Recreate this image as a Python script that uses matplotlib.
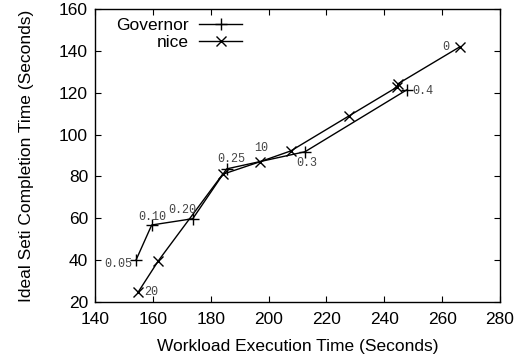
import matplotlib
matplotlib.use("Agg")
import matplotlib.pyplot as plt

plt.rcParams['font.family'] = ['Liberation Sans', 'DejaVu Sans']

gov_x = [154.2, 159.6, 173.8, 185.5, 212.6, 247.7]
gov_y = [40.1, 56.8, 59.8, 83.6, 91.8, 121.3]
gov_labels = ["0.05", "0.10", "0.20", "0.25", "0.3", "0.4"]

nice_x = [155.0, 161.9, 184.1, 197.0, 207.7, 227.9, 244.3, 244.9, 266.2]
nice_y = [24.9, 39.7, 81.0, 87.0, 92.2, 109.0, 122.6, 124.4, 142.0]
nice_labels = {0: "20", 3: "10", 8: "0"}

xticks = [140, 160, 180, 200, 220, 240, 260, 280]
yticks = [20, 40, 60, 80, 100, 120, 140, 160]

fig = plt.figure(figsize=(5.2, 3.6), dpi=100)
ax = fig.add_axes([0.1827, 0.1611, 0.9615 - 0.1827, 0.975 - 0.1611])

ax.plot(gov_x, gov_y, color='black', lw=1.0, marker='+', markersize=8,
        markeredgewidth=1.0, label='Governor')
ax.plot(nice_x, nice_y, color='black', lw=1.0, marker='x', markersize=7,
        markeredgewidth=1.0, label='nice')

lab_kw = dict(family=['Liberation Mono', 'DejaVu Sans Mono'], fontsize=8.5,
              color='#444444')
gov_off = [(-3, -3, 'right', 'center'), (-10, 6, 'left', 'center'),
           (-18, 6, 'left', 'center'), (-7, 7, 'left', 'center'),
           (-6, -8, 'left', 'center'), (4, -1, 'left', 'center')]
for (x, y, t, (dx, dy, ha, va)) in zip(gov_x, gov_y, gov_labels, gov_off):
    ax.annotate(t, (x, y), xytext=(dx, dy), textcoords='offset points',
                ha=ha, va=va, **lab_kw)
nice_off = {0: (4, 0, 'left', 'center'), 3: (-4, 10, 'left', 'center'),
            8: (-8, 0, 'right', 'center')}
for i, t in nice_labels.items():
    dx, dy, ha, va = nice_off[i]
    ax.annotate(t, (nice_x[i], nice_y[i]), xytext=(dx, dy),
                textcoords='offset points', ha=ha, va=va, **lab_kw)

ax.set_xlim(140, 280)
ax.set_ylim(20, 160)
ax.set_xticks(xticks)
ax.set_yticks(yticks)
ax.tick_params(direction='in', top=True, right=True, length=4, width=0.8,
               labelsize=12.5)
ax.tick_params(axis='x', pad=7)
ax.tick_params(axis='y', pad=5)
for s in ax.spines.values():
    s.set_linewidth(1.0)
ax.set_xlabel('Workload Execution Time (Seconds)', fontsize=12.5, labelpad=9)
ax.set_ylabel('Ideal Seti Completion Time (Seconds)', fontsize=12.5, labelpad=18)

leg = ax.legend(loc='upper left', frameon=False, markerfirst=False,
                fontsize=12.5, handlelength=2.5, borderaxespad=0.1,
                labelspacing=0.1, handletextpad=0.6,
                bbox_to_anchor=(0.03, 1.0))
for t in leg.get_texts():
    t.set_ha('right')

fig.savefig('out.png', dpi=100)
